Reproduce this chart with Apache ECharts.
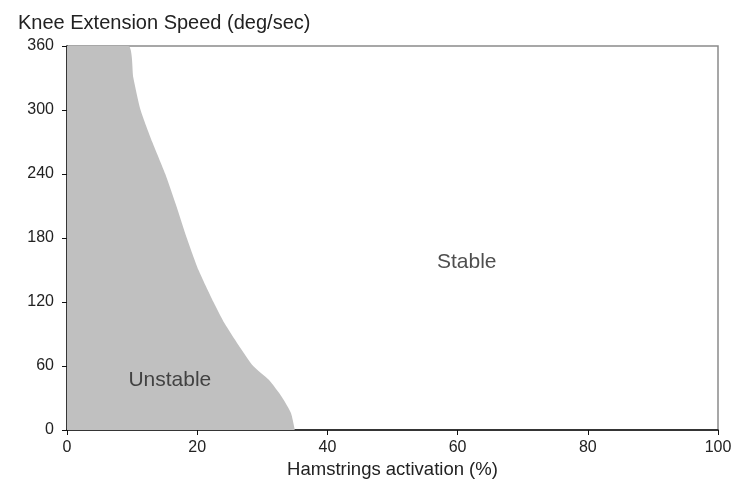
<!DOCTYPE html>
<html>
<head>
<meta charset="utf-8">
<script src="https://cdn.jsdelivr.net/npm/echarts@6/dist/echarts.min.js"></script>
<style>
  html, body { margin: 0; padding: 0; background: #fff; }
  #chart { width: 736px; height: 495px; }
</style>
</head>
<body>
<div id="chart"></div>
<script>
// boundary between unstable and stable regions (hamstrings %, speed deg/sec)
const boundaryX = [0, 9.4, 10.2, 11.3, 13.1, 15.1, 16.8, 18.4, 20.2, 22.5, 24.2, 26.3, 28.6, 31.0, 33.0, 34.4, 35.0];
const boundaryY = [360, 360, 330, 300, 270, 240, 210, 180, 150, 120, 100, 80, 60, 47, 31, 16, 0];
const xTicks = [0, 20, 40, 60, 80, 100];
const yTicks = [0, 60, 120, 180, 240, 300, 360];
const regionLabels = [
  { name: 'Unstable', x: 15.8, y: 47 },
  { name: 'Stable', x: 61.4, y: 157 }
];

const font = 'Liberation Sans, Arial, sans-serif';
const chart = echarts.init(document.getElementById('chart'));

const option = {
  animation: false,
  backgroundColor: '#fff',
  title: {
    text: 'Knee Extension Speed (deg/sec)',
    left: 13,
    top: 8,
    textStyle: { fontFamily: font, fontSize: 20, fontWeight: 'normal', color: '#222' }
  },
  grid: {
    left: 67, right: 18, top: 46, bottom: 65,
    show: true,
    borderColor: '#8a8a8a',
    borderWidth: 1.5
  },
  xAxis: {
    type: 'value',
    min: xTicks[0],
    max: xTicks[xTicks.length - 1],
    interval: 20,
    name: 'Hamstrings activation (%)',
    nameLocation: 'middle',
    nameGap: 22,
    nameTextStyle: { fontFamily: font, fontSize: 18.5, color: '#222' },
    axisLine: { show: true, lineStyle: { color: '#111', width: 1.5 } },
    axisTick: { show: true, length: 5, lineStyle: { color: '#111' } },
    axisLabel: { fontFamily: font, fontSize: 16, color: '#222', margin: 10 },
    splitLine: { show: false }
  },
  yAxis: {
    type: 'value',
    min: yTicks[0],
    max: yTicks[yTicks.length - 1],
    interval: 60,
    axisLine: { show: true, lineStyle: { color: '#111', width: 1.5 } },
    axisTick: { show: true, length: 5, lineStyle: { color: '#111' } },
    axisLabel: { fontFamily: font, fontSize: 16, color: '#222', margin: 13 },
    splitLine: { show: false }
  },
  series: [
    {
      type: 'line',
      data: boundaryX.map((x, i) => [x, boundaryY[i]]),
      smooth: 0.2,
      symbol: 'none',
      lineStyle: { width: 0 },
      areaStyle: { color: '#c0c0c0', opacity: 1 },
      z: 1
    },
    {
      type: 'scatter',
      data: regionLabels.map(d => ({ value: [d.x, d.y], name: d.name })),
      symbolSize: 0,
      label: {
        show: true,
        position: 'inside',
        formatter: p => p.name,
        fontFamily: font,
        fontSize: 21,
        color: '#222'
      },
      z: 5
    }
  ]
};

chart.setOption(option);
</script>
</body>
</html>
